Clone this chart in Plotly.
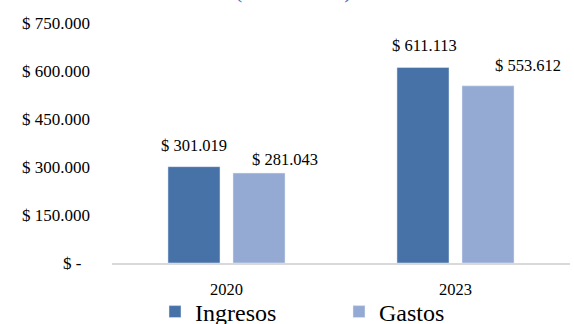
import plotly.graph_objects as go

years = ["2020", "2023"]
ingresos = [301019, 611113]
gastos = [281043, 553612]
y_ticks = [0, 150000, 300000, 450000, 600000, 750000]
title_text = "(en millones)"

def fmt(v):
    return "$ " + f"{v:,}".replace(",", ".")

tick_text = ["$ -" + "\u00a0" * 2 if v == 0 else fmt(v) for v in y_ticks]

C_ING = "#4672A8"
C_GAS = "#95AAD3"
FONT = "Liberation Serif, serif"

fig = go.Figure()
fig.add_trace(go.Bar(name="Ingresos", x=years, y=ingresos, marker_color=C_ING))
fig.add_trace(go.Bar(name="Gastos", x=years, y=gastos, marker_color=C_GAS))

# label offsets (pixels): (xshift, yshift above bar top)
ing_shift = [(-32.5, 21), (-31.5, 22)]
gas_shift = [(58.5, 13.5), (72.5, 20)]
anns = []
for i in range(len(years)):
    for vals, sh in ((ingresos, ing_shift), (gastos, gas_shift)):
        anns.append(dict(x=i, y=vals[i], xref="x", yref="y", text=fmt(vals[i]),
                         showarrow=False, xshift=sh[i][0], yshift=sh[i][1],
                         yanchor="middle", xanchor="center",
                         font=dict(family=FONT, size=16.5, color="#000000")))
anns.append(dict(x=(293 - 112) / 458, y=1, xref="paper", yref="paper", text=title_text,
                 showarrow=False, xanchor="center", yanchor="bottom", yshift=18,
                 font=dict(family=FONT, size=22, color="#4472C4")))

fig.update_layout(
    width=574, height=324,
    margin=dict(l=112, r=4, t=23, b=61, autoexpand=False),
    paper_bgcolor="white", plot_bgcolor="white",
    barmode="group", bargap=0.432, bargroupgap=0.2,
    font=dict(family=FONT, size=17, color="#000000"),
    showlegend=True,
    legend=dict(orientation="h", xref="container", yref="container",
                x=155 / 574, xanchor="left", y=1 - 312 / 324, yanchor="middle",
                bgcolor="rgba(0,0,0,0)",
                font=dict(family=FONT, size=24, color="#000000"),
                entrywidth=139, traceorder="normal"),
    annotations=anns,
    xaxis=dict(type="category", showline=True, linecolor="#D9D9D9", linewidth=1.5,
               showgrid=False, ticks="", tickfont=dict(family=FONT, size=16.5),
               ticklabelstandoff=10, zeroline=False),
    yaxis=dict(range=[0, 750000], tickvals=y_ticks, ticktext=tick_text, showgrid=False,
               showline=False, zeroline=False, ticks="",
               tickfont=dict(family=FONT, size=17), ticklabelstandoff=21),
)
fig.write_html("out.html", config={"displayModeBar": False},
               post_script="document.body.style.margin='0';")
